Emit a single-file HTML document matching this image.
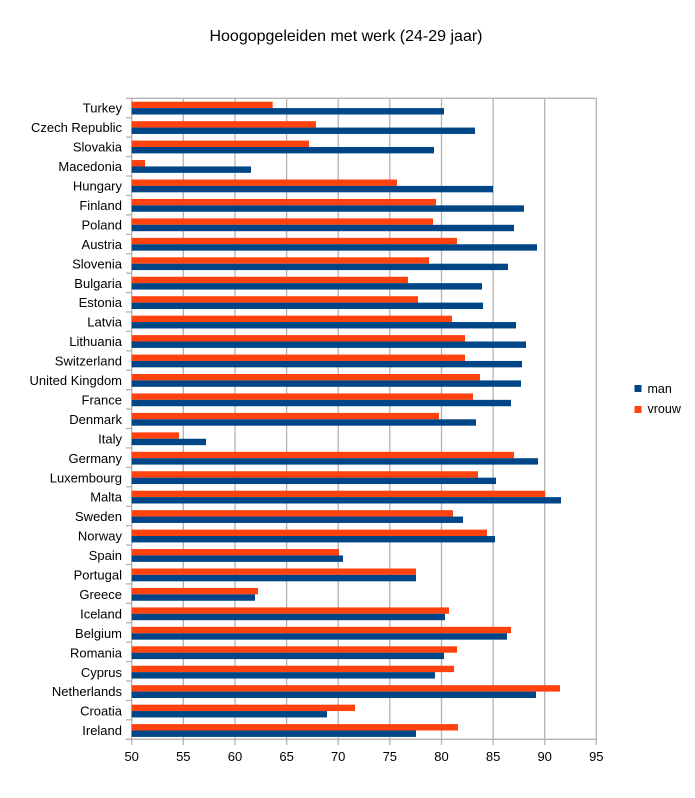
<!DOCTYPE html>
<html><head><meta charset="utf-8"><style>
html,body{margin:0;padding:0;background:#fff;}
svg{display:block;font-family:"Liberation Sans",Arial,sans-serif;}
</style></head><body>
<svg width="695" height="798" viewBox="0 0 695 798" xmlns="http://www.w3.org/2000/svg">
<rect x="0" y="0" width="695" height="798" fill="#fff"/>
<text x="346" y="41" font-size="16" text-anchor="middle" fill="#000">Hoogopgeleiden met werk (24-29 jaar)</text>
<g stroke="#b3b3b3" stroke-width="1.3" fill="none">
<line x1="131.7" y1="98.3" x2="596.3" y2="98.3"/>
<line x1="131.7" y1="98.3" x2="131.7" y2="745"/>
<line x1="183.3" y1="98.3" x2="183.3" y2="745"/>
<line x1="235" y1="98.3" x2="235" y2="745"/>
<line x1="286.6" y1="98.3" x2="286.6" y2="745"/>
<line x1="338.2" y1="98.3" x2="338.2" y2="745"/>
<line x1="389.8" y1="98.3" x2="389.8" y2="745"/>
<line x1="441.5" y1="98.3" x2="441.5" y2="745"/>
<line x1="493.1" y1="98.3" x2="493.1" y2="745"/>
<line x1="544.7" y1="98.3" x2="544.7" y2="745"/>
<line x1="596.3" y1="98.3" x2="596.3" y2="745"/>
<line x1="126" y1="739.3" x2="596.3" y2="739.3"/>
</g>
<g id="ticks" stroke="#b3b3b3" stroke-width="1.3"></g>
<g id="bars"></g>
<g id="labels" font-size="13" text-anchor="end" fill="#000"></g>
<g font-size="13" text-anchor="middle" fill="#000">
<text x="131.7" y="761">50</text>
<text x="183.3" y="761">55</text>
<text x="235" y="761">60</text>
<text x="286.6" y="761">65</text>
<text x="338.2" y="761">70</text>
<text x="389.8" y="761">75</text>
<text x="441.5" y="761">80</text>
<text x="493.1" y="761">85</text>
<text x="544.7" y="761">90</text>
<text x="596.3" y="761">95</text>
</g>
<rect x="634.5" y="385" width="7" height="7" fill="#004586"/>
<text x="647.5" y="393" font-size="12.5" fill="#000">man</text>
<rect x="634.5" y="406" width="7" height="7" fill="#ff420e"/>
<text x="647.5" y="413" font-size="12.5" fill="#000">vrouw</text>
</svg>
<script>
var d=[["Turkey",272.7,444],["Czech Republic",316,475],["Slovakia",309,434],["Macedonia",145,251],["Hungary",397,493],["Finland",436,524],["Poland",433,514],["Austria",457,537],["Slovenia",429,508],["Bulgaria",408,482],["Estonia",418,483],["Latvia",452,516],["Lithuania",465,526],["Switzerland",465,522],["United Kingdom",480,521],["France",473,511],["Denmark",439,476],["Italy",179,206],["Germany",514,538],["Luxembourg",478,496],["Malta",545,561],["Sweden",453,463],["Norway",487,495],["Spain",339,343],["Portugal",416,416],["Greece",258,255],["Iceland",449,445],["Belgium",511,507],["Romania",457,444],["Cyprus",454,435],["Netherlands",560,536],["Croatia",355,327],["Ireland",458,416]];
var ns="http://www.w3.org/2000/svg";
var bars=document.getElementById("bars"),labels=document.getElementById("labels"),ticks=document.getElementById("ticks");
var sp=19.45,x0=131.7;
function el(t,a,p){var e=document.createElementNS(ns,t);for(var k in a)e.setAttribute(k,a[k]);p.appendChild(e);return e;}
for(var i=0;i<=33;i++){var yy=Math.min(98.3+i*(739.3-98.3)/33,739.3);el("line",{x1:126,y1:yy,x2:131.7,y2:yy},ticks);}
for(var i=0;i<d.length;i++){
var ot=101.7+i*sp;
el("rect",{x:x0,y:ot,width:d[i][1]-x0,height:6.4,fill:"#ff420e"},bars);
el("rect",{x:x0,y:ot+6.4,width:d[i][2]-x0,height:6.4,fill:"#004586"},bars);
var t=el("text",{x:122,y:ot+6.4+4.6},labels);t.textContent=d[i][0];
}
</script>
</body></html>
